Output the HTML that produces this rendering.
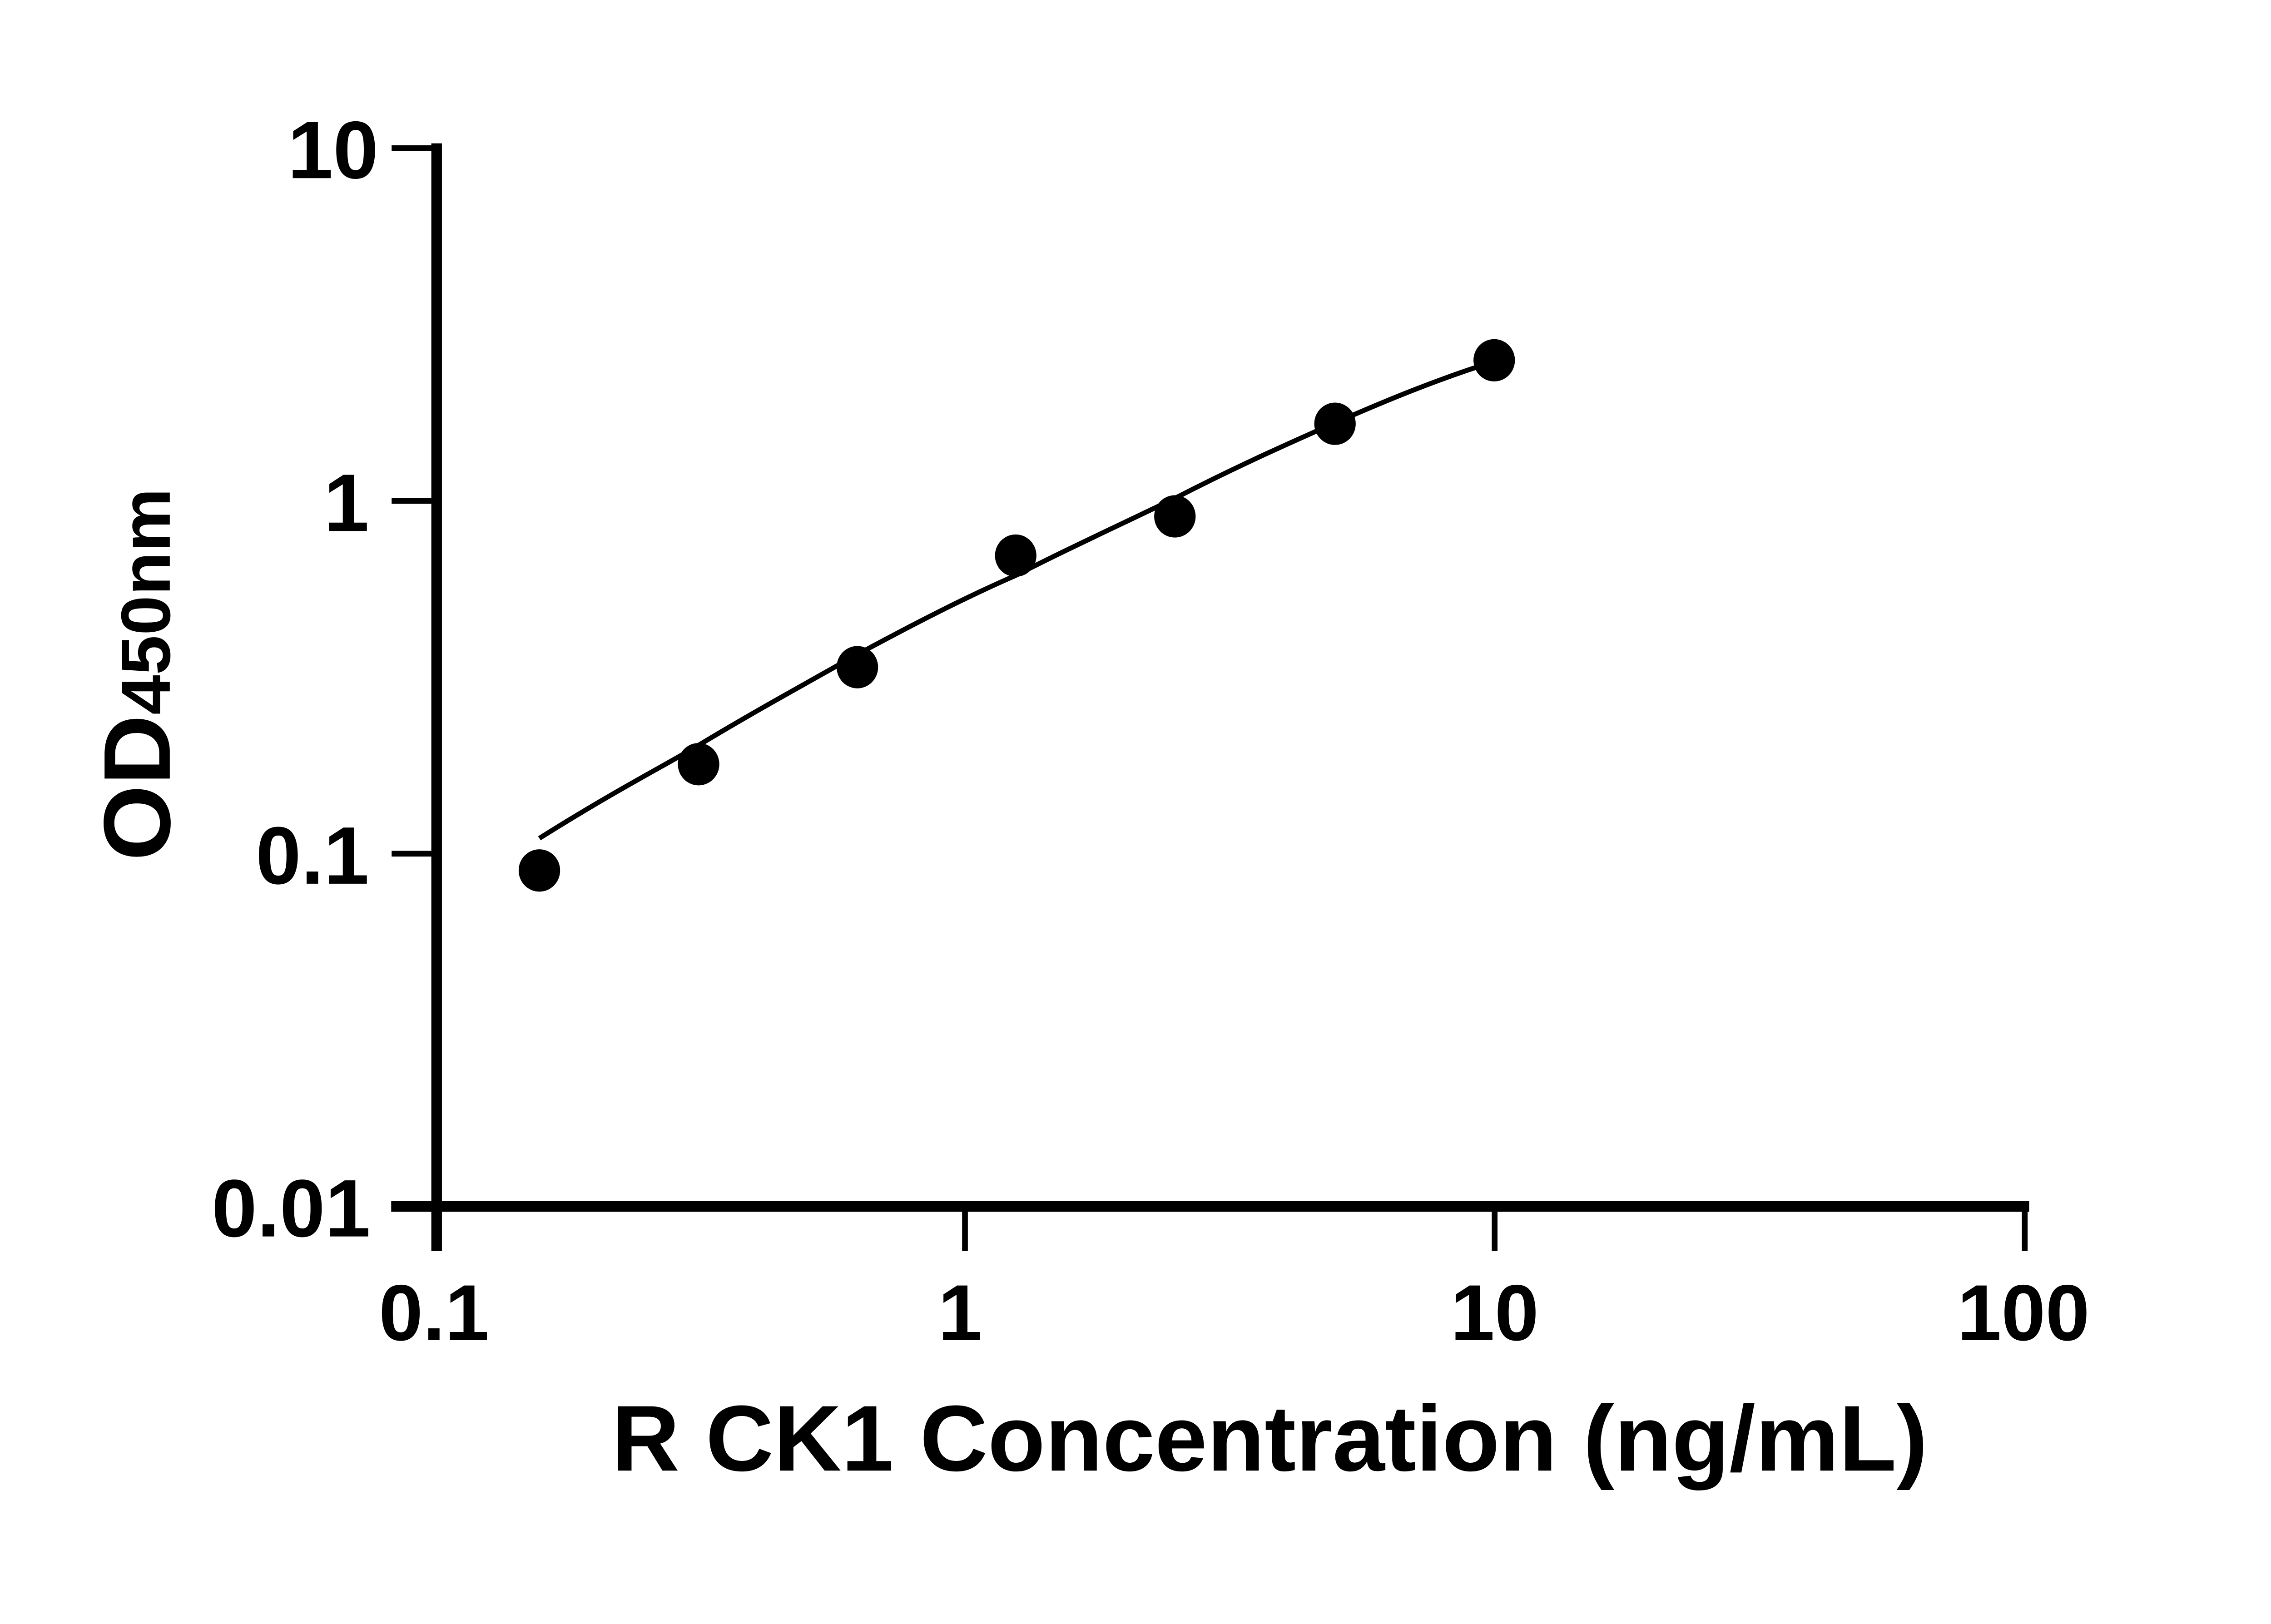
<!DOCTYPE html>
<html><head><meta charset="utf-8"><style>html,body{margin:0;padding:0;background:#fff}svg{display:block}</style></head>
<body>
<svg width="5142" height="3576" viewBox="0 0 5142 3576" xmlns="http://www.w3.org/2000/svg">
<rect width="5142" height="3576" fill="#fff"/>
<g transform="scale(0.971)">
<g stroke="#000" fill="none">
<line x1="990" y1="325" x2="990" y2="2837" stroke-width="24"/>
<line x1="887" y1="2736" x2="4601" y2="2736" stroke-width="24"/>
<g stroke-width="13">
<line x1="888" y1="336" x2="990" y2="336"/>
<line x1="888" y1="1136" x2="990" y2="1136"/>
<line x1="888" y1="1936" x2="990" y2="1936"/>
<line x1="2188" y1="2736" x2="2188" y2="2837"/>
<line x1="3389" y1="2736" x2="3389" y2="2837"/>
<line x1="4591" y1="2736" x2="4591" y2="2837"/>
</g>
<path d="M1223,1901 C1400,1790 1500,1740 1584,1690 C1700,1620 1800,1565 1944,1484 C2100,1400 2200,1350 2303,1305 C2420,1245 2540,1190 2664,1130 C2790,1065 2900,1015 3027,959 C3150,905 3250,865 3350,832" stroke-width="11"/>
</g>
<g fill="#000">
<ellipse cx="1223" cy="1974" rx="47" ry="48"/>
<ellipse cx="1584" cy="1733" rx="47" ry="48"/>
<ellipse cx="1944" cy="1513" rx="47" ry="48"/>
<ellipse cx="2303" cy="1260" rx="47" ry="48"/>
<ellipse cx="2664" cy="1171" rx="47" ry="48"/>
<ellipse cx="3027" cy="961" rx="47" ry="48"/>
<ellipse cx="3388" cy="817" rx="47" ry="48"/>
</g>
<g font-family="Liberation Sans, sans-serif" font-weight="bold" fill="#000">
<g font-size="185" text-anchor="end">
<text x="858" y="404">10</text>
<text x="837" y="1204">1</text>
<text x="837" y="2004">0.1</text>
<text x="840" y="2804">0.01</text>
</g>
<g font-size="180" text-anchor="middle">
<text x="984" y="3039">0.1</text>
<text x="2177" y="3039">1</text>
<text x="3389" y="3039">10</text>
<text x="4588" y="3039">100</text>
</g>
<text x="1387" y="3335" font-size="212" textLength="2984" lengthAdjust="spacingAndGlyphs">R CK1 Concentration (ng/mL)</text>
<text transform="translate(385,1952) rotate(-90)" textLength="845" lengthAdjust="spacingAndGlyphs"><tspan font-size="215">OD</tspan><tspan font-size="158">450nm</tspan></text>
</g>
</g>
</svg>
</body></html>
